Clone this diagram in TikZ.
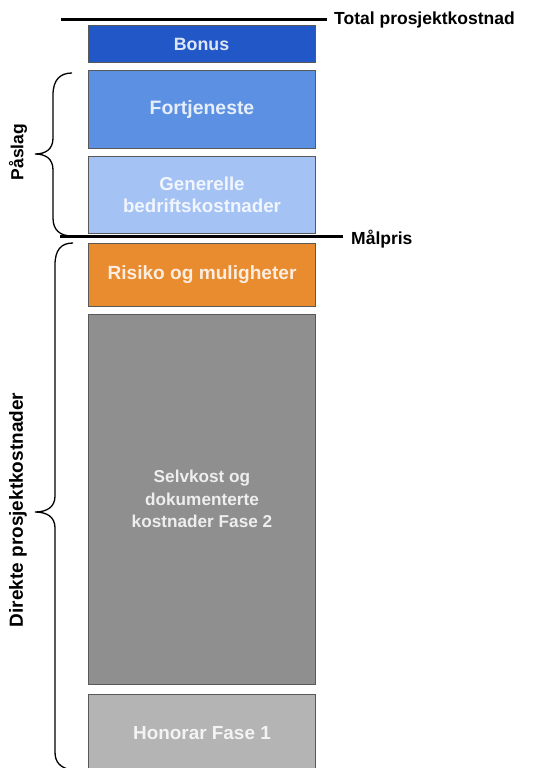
\documentclass[tikz,border=0pt]{standalone}
\usepackage{fontspec}
\setmainfont{Liberation Sans}
\begin{document}
\begin{tikzpicture}[x=1pt,y=-1pt,
  bar/.style={draw=black!65, line width=1pt, minimum width=227pt, inner sep=0pt,
    text=white, text opacity=0.85, align=center},
  lbl/.style={font=\fontsize{17.5}{20}\selectfont\bfseries, inner sep=0pt, text=black},
  levelline/.style={line width=3pt, black},
  brc/.style={line width=1.3pt, black}]
\useasboundingbox (0,0) rectangle (552,768);
\definecolor{cBonus}{HTML}{2257C7}
\definecolor{cFort}{HTML}{5C90E3}
\definecolor{cGen}{HTML}{A4C2F3}
\definecolor{cRisk}{HTML}{E98B2F}
\definecolor{cSelv}{HTML}{8F8F8F}
\definecolor{cHon}{HTML}{B4B4B4}
\node[bar, fill=cBonus, minimum height=37pt, font=\fontsize{17.8}{20}\selectfont\bfseries] (bonus) at (201.5,44.5) {Bonus};
\node[bar, fill=cFort, minimum height=78pt, font=\fontsize{19.4}{22}\selectfont\bfseries] (fort) at (202,109.5) {Fortjeneste};
\node[bar, fill=cGen, minimum height=77pt, font=\fontsize{18.7}{22}\selectfont\bfseries] (gen) at (202,194.5) {Generelle\\bedriftskostnader};
\node[bar, fill=cRisk, minimum height=63pt, font=\fontsize{19.1}{22}\selectfont\bfseries] (risk) at (202,274.5) {Risiko og muligheter};
\node[bar, fill=cSelv, minimum height=370pt, font=\fontsize{17.2}{22.5}\selectfont\bfseries] (selv) at (202,499) {Selvkost og\\dokumenterte\\kostnader Fase 2};
\node[bar, fill=cHon, minimum height=78pt, font=\fontsize{18.9}{22}\selectfont\bfseries] (hon) at (202,733) {Honorar Fase 1};
% lines
\coordinate (t1) at (61,20);
\coordinate (t2) at (327,20);
\draw[levelline] (t1) -- (t2);
\node[lbl, anchor=west] (total) at (334,20) {Total prosjektkostnad};
\coordinate (m1) at (60,236);
\coordinate (m2) at (343,236);
\draw[levelline] (m1) -- (m2);
\node[lbl, anchor=west] (malpris) at (351,239) {Målpris};
% braces
\draw[brc] (72,73) .. controls (60,73) and (53,80) .. (53,95) -- (53,138)
  .. controls (53,149) and (46,154) .. (35,154)
  .. controls (46,154) and (53,159) .. (53,170) -- (53,218)
  .. controls (53,230) and (60,236) .. (72,236);
\draw[brc] (73,243) .. controls (61,243) and (55,250) .. (55,265) -- (55,496)
  .. controls (55,507) and (47,512) .. (35,512)
  .. controls (47,512) and (55,517) .. (55,528) -- (55,752)
  .. controls (55,762) and (60,768) .. (72,770);
\node[lbl, rotate=90] (paslag) at (18,152) {Påslag};
\node[lbl, rotate=90, font=\fontsize{19}{20}\selectfont\bfseries] (direkte) at (18,510) {Direkte prosjektkostnader};
\end{tikzpicture}
\end{document}
